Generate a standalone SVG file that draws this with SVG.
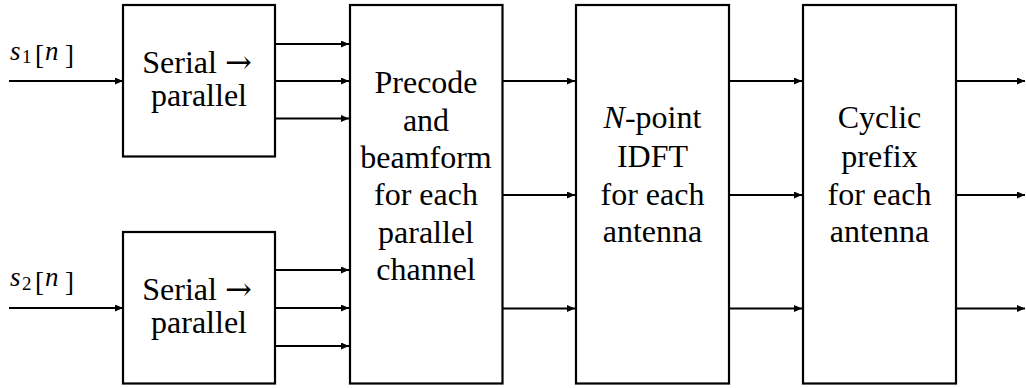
<svg xmlns="http://www.w3.org/2000/svg" width="1026" height="388" viewBox="0 0 1026 388">
<defs>
<marker id="ah" markerUnits="userSpaceOnUse" markerWidth="10" markerHeight="8" refX="8" refY="3.5" orient="auto">
<path d="M0,0 L8,3.5 L0,7 Z" fill="#000" stroke="none"/>
</marker>
</defs>
<rect x="0" y="0" width="1026" height="388" fill="#fff"/>
<g id="connectors" stroke="#000" stroke-width="2.2" fill="none" marker-end="url(#ah)">
<line x1="9" y1="81" x2="123" y2="81"/>
<line x1="9" y1="308" x2="123" y2="308"/>
<line x1="275" y1="44" x2="349" y2="44"/>
<line x1="275" y1="81" x2="349" y2="81"/>
<line x1="275" y1="118.5" x2="349" y2="118.5"/>
<line x1="275" y1="270" x2="349" y2="270"/>
<line x1="275" y1="308" x2="349" y2="308"/>
<line x1="275" y1="346" x2="349" y2="346"/>
<line x1="502.5" y1="81" x2="575" y2="81"/>
<line x1="502.5" y1="195" x2="575" y2="195"/>
<line x1="502.5" y1="308.5" x2="575" y2="308.5"/>
<line x1="729" y1="81" x2="802" y2="81"/>
<line x1="729" y1="195" x2="802" y2="195"/>
<line x1="729" y1="308.5" x2="802" y2="308.5"/>
<line x1="956" y1="81" x2="1025" y2="81"/>
<line x1="956" y1="195" x2="1025" y2="195"/>
<line x1="956" y1="308.5" x2="1025" y2="308.5"/>
</g>
<g font-family="Liberation Serif, serif" fill="#000">
<g id="label-s1" font-size="27">
<text y="59.5"><tspan font-family="Liberation Serif, serif" x="10" font-style="italic">s</tspan><tspan font-family="Liberation Serif, serif" x="22" y="63" font-size="19">1</tspan><tspan font-family="Liberation Serif, serif" x="35" y="64">[</tspan><tspan font-family="Liberation Serif, serif" x="45" y="59.5" font-style="italic">n</tspan><tspan font-family="Liberation Serif, serif" x="65" y="64">]</tspan></text>
</g>
<g id="label-s2" font-size="27">
<text y="286"><tspan font-family="Liberation Serif, serif" x="10" font-style="italic">s</tspan><tspan font-family="Liberation Serif, serif" x="22" y="289.5" font-size="19">2</tspan><tspan font-family="Liberation Serif, serif" x="35" y="290.5">[</tspan><tspan font-family="Liberation Serif, serif" x="45" y="286" font-style="italic">n</tspan><tspan font-family="Liberation Serif, serif" x="65" y="290.5">]</tspan></text>
</g>
<g id="sp1" font-size="32" text-anchor="middle">
<rect x="123" y="5" width="152" height="151.5" fill="#fff" stroke="#000" stroke-width="2.2"/>
<text x="197" y="73.3"><tspan font-family="Liberation Serif, serif">Serial </tspan><tspan font-family="DejaVu Serif, serif">&#8594;</tspan></text>
<text x="199" y="106"><tspan font-family="Liberation Serif, serif">parallel</tspan></text>
</g>
<g id="sp2" font-size="32" text-anchor="middle">
<rect x="123" y="232" width="152" height="151.5" fill="#fff" stroke="#000" stroke-width="2.2"/>
<text x="197" y="300.3"><tspan font-family="Liberation Serif, serif">Serial </tspan><tspan font-family="DejaVu Serif, serif">&#8594;</tspan></text>
<text x="199" y="333"><tspan font-family="Liberation Serif, serif">parallel</tspan></text>
</g>
<g id="precode" font-size="32" text-anchor="middle">
<rect x="350" y="5" width="152.5" height="378.5" fill="#fff" stroke="#000" stroke-width="2.2"/>
<text x="426" y="93.3"><tspan font-family="Liberation Serif, serif">Precode</tspan></text>
<text x="426" y="130.6"><tspan font-family="Liberation Serif, serif">and</tspan></text>
<text x="426" y="167.9"><tspan font-family="Liberation Serif, serif">beamform</tspan></text>
<text x="426" y="205.2"><tspan font-family="Liberation Serif, serif">for each</tspan></text>
<text x="426" y="242.5"><tspan font-family="Liberation Serif, serif">parallel</tspan></text>
<text x="426" y="279.8"><tspan font-family="Liberation Serif, serif">channel</tspan></text>
</g>
<g id="idft" font-size="32" text-anchor="middle">
<rect x="576" y="5" width="153" height="378.5" fill="#fff" stroke="#000" stroke-width="2.2"/>
<text x="652.5" y="128"><tspan font-family="Liberation Serif, serif" font-style="italic">N</tspan><tspan font-family="Liberation Serif, serif">-point</tspan></text>
<text x="652.5" y="166.5"><tspan font-family="Liberation Serif, serif">IDFT</tspan></text>
<text x="652.5" y="204.5"><tspan font-family="Liberation Serif, serif">for each</tspan></text>
<text x="652.5" y="241.5"><tspan font-family="Liberation Serif, serif">antenna</tspan></text>
</g>
<g id="cyclic" font-size="32" text-anchor="middle">
<rect x="803" y="5" width="153" height="378.5" fill="#fff" stroke="#000" stroke-width="2.2"/>
<text x="879.5" y="128"><tspan font-family="Liberation Serif, serif">Cyclic</tspan></text>
<text x="879.5" y="166.5"><tspan font-family="Liberation Serif, serif">prefix</tspan></text>
<text x="879.5" y="204.5"><tspan font-family="Liberation Serif, serif">for each</tspan></text>
<text x="879.5" y="241.5"><tspan font-family="Liberation Serif, serif">antenna</tspan></text>
</g>
</g>
</svg>
